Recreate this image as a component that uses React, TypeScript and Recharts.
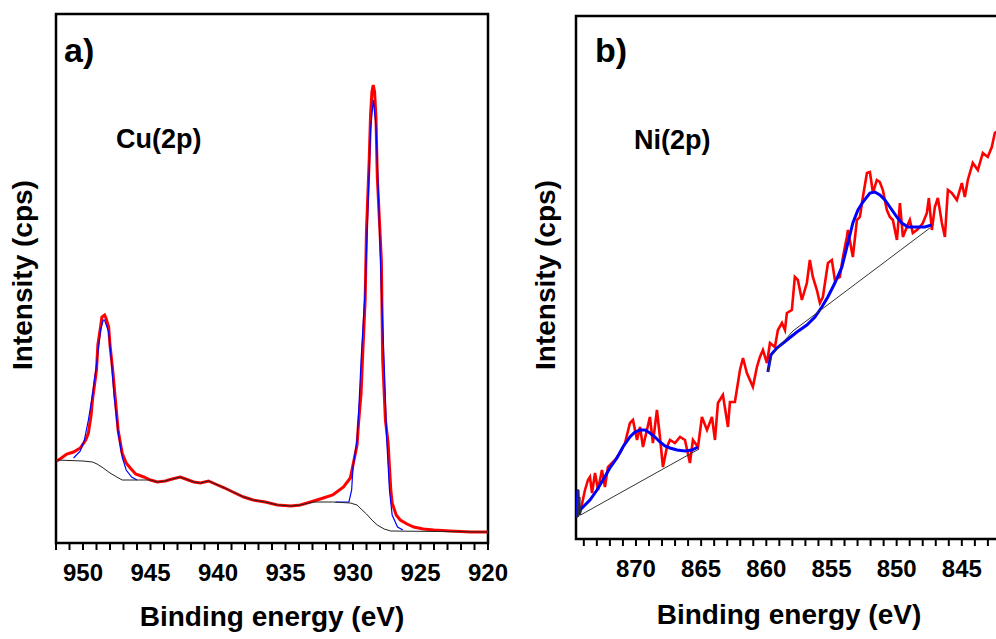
import React from 'react';
import { LineChart, Line, XAxis, YAxis, ReferenceArea } from 'recharts';

const FONT = '"Liberation Sans", Arial, Helvetica, sans-serif';

// [binding energy (eV), intensity (a.u.)]
const cuData: [number, number][] = [
  [951.95, 82], [951.6, 85], [951.2, 89], [950.7, 91], [950.2, 95], [949.8, 103], [949.6, 110],
  [949.4, 128], [949.3, 143], [949.0, 173], [948.9, 198], [948.7, 216], [948.6, 226], [948.4, 228],
  [948.3, 225], [948.1, 216], [948.0, 198], [947.8, 173], [947.6, 143], [947.4, 113], [947.1, 90],
  [946.8, 80], [946.5, 75], [946.1, 69], [945.5, 66], [945.0, 63], [944.5, 61], [943.9, 62],
  [943.4, 64], [942.8, 66], [942.4, 64], [941.8, 61], [941.3, 60], [940.7, 62], [940.2, 59],
  [939.5, 55], [938.9, 51], [938.1, 46], [937.4, 43], [936.5, 41], [935.6, 38], [934.6, 37],
  [933.9, 38], [932.9, 42], [932.2, 45], [931.5, 48], [930.7, 56], [930.2, 65], [930.0, 78],
  [929.7, 98], [929.6, 118], [929.4, 150], [929.3, 183], [929.1, 243], [929.0, 313], [928.8, 383],
  [928.7, 428], [928.6, 451], [928.5, 458], [928.4, 451], [928.3, 426], [928.2, 366], [927.9, 283],
  [927.8, 183], [927.6, 123], [927.4, 100], [927.2, 53], [927.1, 40], [926.8, 28], [926.5, 23],
  [926.0, 19], [925.5, 16], [924.8, 14], [924.0, 13], [922.8, 12], [921.3, 11], [920.0, 11],
];

const cuFit1: [number, number][] = [
  [950.7, 85], [950.2, 92], [949.9, 103], [949.6, 123], [949.3, 148], [949.0, 178], [948.7, 213],
  [948.5, 223], [948.4, 223], [948.1, 211], [947.9, 183], [947.7, 148], [947.4, 111], [947.1, 86],
  [946.8, 73], [946.4, 66], [946.0, 63],
];

const cuFit2: [number, number][] = [
  [931.3, 41], [930.3, 41], [930.1, 53], [930.0, 76], [929.7, 103], [929.6, 126], [929.4, 183],
  [929.1, 253], [928.9, 333], [928.7, 413], [928.5, 443], [928.3, 418], [928.1, 343], [927.9, 253],
  [927.7, 183], [927.5, 103], [927.3, 53], [927.1, 28], [926.7, 16], [926.3, 13],
];

const cuBg: [number, number][] = [
  [952.0, 83], [950.0, 82], [949.3, 81], [948.96, 79], [948.5, 75], [948.0, 70], [947.5, 66],
  [947.1, 63], [945.0, 63], [944.5, 61], [943.9, 62], [943.4, 64], [942.8, 66], [942.4, 64],
  [941.8, 61], [941.3, 60], [940.7, 62], [940.2, 59], [939.5, 55], [938.9, 51], [938.1, 46],
  [937.4, 43], [936.5, 41], [935.6, 38], [934.6, 37], [933.9, 38], [932.9, 41], [931.5, 41],
  [930.2, 40], [929.7, 38], [929.4, 34], [929.0, 29], [928.6, 23], [928.2, 18], [927.7, 14],
  [927.2, 12], [920.0, 11],
];

const niData: [number, number][] = [
  [874.55, 24], [874.29, 26], [873.91, 49], [873.68, 59], [873.53, 62], [873.37, 46], [873.14, 66],
  [872.91, 49], [872.61, 69], [872.38, 52], [872.15, 72], [871.84, 76], [871.61, 79], [871.23, 86],
  [870.84, 96], [870.46, 116], [870.23, 119], [869.92, 99], [869.69, 112], [869.46, 92], [869.16, 109],
  [868.93, 122], [868.7, 96], [868.39, 129], [868.16, 102], [867.93, 72], [867.62, 92], [867.39, 99],
  [867.01, 96], [866.62, 102], [866.24, 99], [865.86, 76], [865.63, 99], [865.24, 92], [864.94, 122],
  [864.55, 109], [864.17, 122], [863.94, 99], [863.71, 136], [863.33, 144], [862.94, 112], [862.79, 137],
  [862.41, 137], [862.02, 169], [861.79, 181], [861.49, 166], [861.26, 159], [861.03, 152], [860.72, 172],
  [860.49, 182], [860.26, 189], [859.95, 176], [859.72, 196], [859.34, 192], [859.11, 209], [858.8, 216],
  [858.57, 209], [858.42, 226], [858.04, 229], [857.81, 262], [857.58, 259], [857.27, 239], [856.89, 256],
  [856.66, 279], [856.43, 262], [856.12, 249], [855.89, 236], [855.66, 242], [855.27, 276], [854.97, 279],
  [854.74, 259], [854.36, 262], [854.12, 282], [853.82, 302], [853.74, 309], [853.36, 282], [853.05, 319],
  [852.82, 322], [852.59, 342], [852.28, 366], [852.05, 367], [851.82, 346], [851.52, 359], [851.29, 357],
  [851.06, 349], [850.75, 329], [850.52, 322], [850.29, 319], [849.98, 299], [849.75, 336], [849.52, 302],
  [849.22, 312], [848.99, 319], [848.76, 306], [848.45, 309], [848.22, 312], [847.99, 316], [847.68, 326],
  [847.53, 341], [847.3, 309], [847.07, 332], [846.84, 341], [846.53, 316], [846.3, 302], [846.07, 349],
  [845.77, 346], [845.38, 339], [845.0, 356], [844.77, 342], [844.54, 359], [844.16, 376], [843.77, 369],
  [843.39, 386], [843.01, 382], [842.7, 392], [842.47, 406], [841.93, 411], [841.32, 421],
];

const niFit1: [number, number][] = [
  [874.55, 22], [874.45, 49], [874.37, 24], [874.29, 29], [873.91, 34], [873.53, 39], [872.99, 49],
  [872.53, 59], [872.0, 71], [871.46, 81], [871.0, 92], [870.46, 102], [870.08, 107], [869.69, 109],
  [869.31, 109], [868.93, 106], [868.54, 102], [868.16, 97], [867.77, 93], [867.39, 91], [866.85, 89],
  [866.24, 88], [865.7, 89], [865.24, 92],
];

const niFit2: [number, number][] = [
  [859.88, 167], [859.65, 184], [859.19, 191], [858.42, 199], [857.65, 207], [856.89, 214], [856.27, 222],
  [855.74, 232], [855.28, 242], [854.74, 256], [854.2, 272], [853.74, 296], [853.36, 316], [852.97, 329],
  [852.59, 337], [852.05, 346], [851.67, 347], [851.29, 344], [850.9, 339], [850.52, 332], [849.98, 322],
  [849.6, 316], [849.14, 312], [848.45, 312], [847.84, 312], [847.3, 314],
];

const niBg1: [number, number][] = [
  [874.52, 21], [874.45, 50], [874.4, 22], [874.3, 42], [874.25, 24], [865.17, 90],
];

const niBg2: [number, number][] = [
  [859.88, 167], [859.57, 184], [857.96, 208], [847.45, 311],
];

const cuTicks = Array.from({ length: 33 }, (_, i) => 920 + i);
const niTicks = Array.from({ length: 34 }, (_, i) => 841 + i);

const pts = (arr: [number, number][]) => arr.map(([ev, i]) => ({ ev, i }));

const Tick = (props: any) => {
  const { x, y, payload } = props;
  if (payload.value % 5 !== 0) return <g />;
  return (
    <text x={x} y={y} dy="0.71em" textAnchor="middle" fontSize={24} fontWeight="bold" fontFamily={FONT} fill="#000">
      {payload.value}
    </text>
  );
};

const txt = (extra: React.CSSProperties): React.CSSProperties => ({
  position: 'absolute',
  fontFamily: FONT,
  fontWeight: 'bold',
  lineHeight: 1,
  whiteSpace: 'nowrap',
  color: '#000',
  ...extra,
});

export default function App() {
  return (
    <div style={{ position: 'fixed', left: 0, top: 0, width: 996, height: 639, overflow: 'hidden', background: '#fff' }}>
      {/* panel a */}
      <div style={{ position: 'absolute', left: 0, top: 0 }}>
        <LineChart width={530} height={639} margin={{ top: 14, right: 42, bottom: 0, left: 56 }}>
          <XAxis
            dataKey="ev"
            type="number"
            domain={[920, 952]}
            reversed
            allowDataOverflow
            ticks={cuTicks}
            interval={0}
            height={96}
            tickSize={7}
            tickMargin={14}
            axisLine={false}
            tickLine={{ stroke: '#000', strokeWidth: 2 }}
            tick={<Tick />}
          />
          <YAxis type="number" domain={[0, 529]} allowDataOverflow width={0} tick={false} tickLine={false} axisLine={false} />
          <Line data={pts(cuData)} dataKey="i" stroke="#ff0000" strokeWidth={3} dot={false} isAnimationActive={false} />
          <Line data={pts(cuFit1)} dataKey="i" stroke="#0000ff" strokeWidth={1.2} dot={false} isAnimationActive={false} />
          <Line data={pts(cuFit2)} dataKey="i" stroke="#0000ff" strokeWidth={1.2} dot={false} isAnimationActive={false} />
          <Line data={pts(cuBg)} dataKey="i" stroke="#222" strokeWidth={1} dot={false} isAnimationActive={false} />
          <ReferenceArea x1={920} x2={952} y1={0} y2={529} fill="none" stroke="#000" strokeWidth={2.5} ifOverflow="visible" />
        </LineChart>
      </div>

      {/* panel b, runs past the right edge of the page */}
      <div style={{ position: 'absolute', left: 500, top: 0 }}>
        <LineChart width={537} height={639} margin={{ top: 16, right: 10, bottom: 0, left: 76 }}>
          <XAxis
            dataKey="ev"
            type="number"
            domain={[840, 874.6]}
            reversed
            allowDataOverflow
            ticks={niTicks}
            interval={0}
            height={100}
            tickSize={7}
            tickMargin={14}
            axisLine={false}
            tickLine={{ stroke: '#000', strokeWidth: 2 }}
            tick={<Tick />}
          />
          <YAxis type="number" domain={[0, 523]} allowDataOverflow width={0} tick={false} tickLine={false} axisLine={false} />
          <Line data={pts(niData)} dataKey="i" stroke="#ff0000" strokeWidth={2.6} dot={false} isAnimationActive={false} />
          <Line data={pts(niFit1)} dataKey="i" stroke="#0000ff" strokeWidth={3} dot={false} isAnimationActive={false} />
          <Line data={pts(niFit2)} dataKey="i" stroke="#0000ff" strokeWidth={3} dot={false} isAnimationActive={false} />
          <Line data={pts(niBg1)} dataKey="i" stroke="#333" strokeWidth={1} dot={false} isAnimationActive={false} />
          <Line data={pts(niBg2)} dataKey="i" stroke="#333" strokeWidth={1} dot={false} isAnimationActive={false} />
          <ReferenceArea x1={840} x2={874.6} y1={0} y2={523} fill="none" stroke="#000" strokeWidth={2.5} ifOverflow="visible" />
        </LineChart>
      </div>

      <div style={txt({ left: 64, top: 33, fontSize: 34 })}>a)</div>
      <div style={txt({ left: 116, top: 126, fontSize: 27 })}>Cu(2p)</div>
      <div style={txt({ left: 272, top: 603, fontSize: 28, transform: 'translateX(-50%)' })}>Binding energy (eV)</div>
      <div style={txt({ left: 23, top: 275, fontSize: 28, transform: 'translate(-50%, -50%) rotate(-90deg)' })}>Intensity (cps)</div>

      <div style={txt({ left: 595, top: 33, fontSize: 34 })}>b)</div>
      <div style={txt({ left: 634, top: 127, fontSize: 27 })}>Ni(2p)</div>
      <div style={txt({ left: 789, top: 601, fontSize: 28, transform: 'translateX(-50%)' })}>Binding energy (eV)</div>
      <div style={txt({ left: 546, top: 275, fontSize: 28, transform: 'translate(-50%, -50%) rotate(-90deg)' })}>Intensity (cps)</div>
    </div>
  );
}
